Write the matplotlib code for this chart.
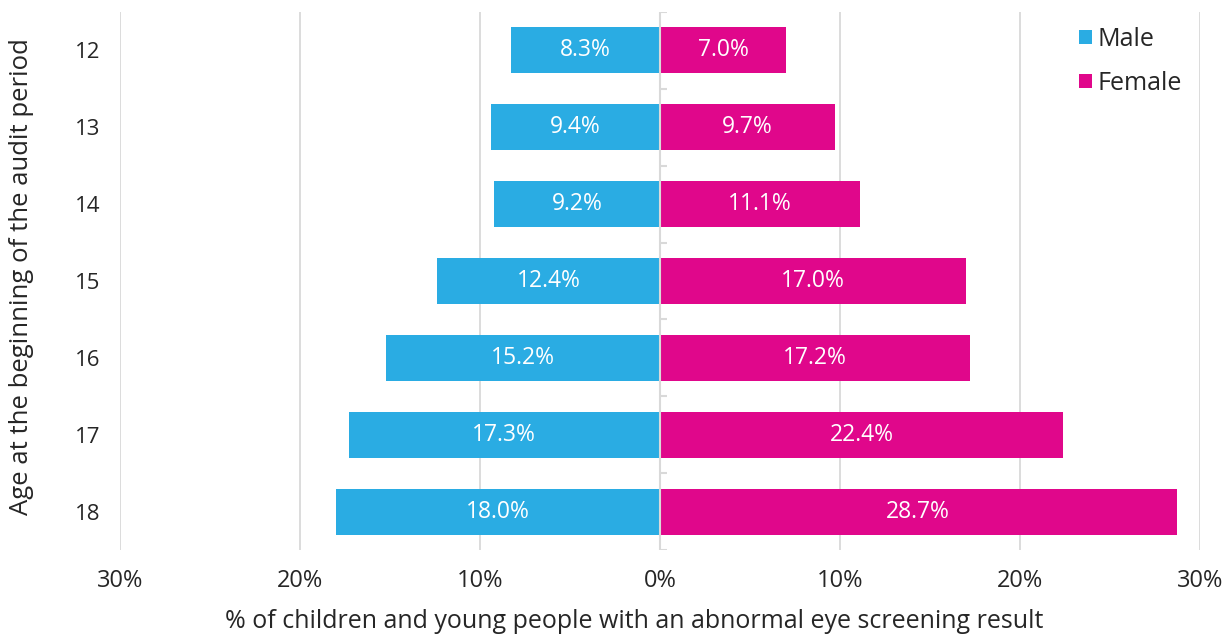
import matplotlib.pyplot as plt
import numpy as np

ages = ["12", "13", "14", "15", "16", "17", "18"]
male = [8.3, 9.4, 9.2, 12.4, 15.2, 17.3, 18.0]
female = [7.0, 9.7, 11.1, 17.0, 17.2, 22.4, 28.7]
xticks = [-30, -20, -10, 0, 10, 20, 30]
xticklabels = ["30%", "20%", "10%", "0%", "10%", "20%", "30%"]

plt.rcParams['font.family'] = ['Open Sans', 'DejaVu Sans']
MALE_C = "#2AACE3"
FEMALE_C = "#E0078B"
GRID_C = "#D9D9D9"
TEXT_C = "#262626"

fig = plt.figure(figsize=(12.27, 6.38), dpi=100)
ax = fig.add_axes([120/1227, (638-550)/638, 1080/1227, 538/638])

y = np.arange(len(ages))
ax.barh(y, [-m for m in male], height=0.6, color=MALE_C, label="Male", zorder=2)
ax.barh(y, female, height=0.6, color=FEMALE_C, label="Female", zorder=2)

for yi, m, f in zip(y, male, female):
    ax.text(-m/2, yi, f"{m:.1f}%", ha="center", va="center", color="white", fontsize=16.5, zorder=3)
    ax.text(f/2, yi, f"{f:.1f}%", ha="center", va="center", color="white", fontsize=16.5, zorder=3)

ax.set_xlim(-30, 30)
ax.set_ylim(len(ages)-0.5, -0.5)
for xv in [-30, -20, -10, 10, 20, 30]:
    ax.axvline(xv, color=GRID_C, lw=1.3, zorder=0)
ax.axvline(0, color=GRID_C, lw=1.5, zorder=4)
for b in np.arange(-0.5, len(ages)+0.5, 1.0):
    ax.plot([0, 0.4], [b, b], color=GRID_C, lw=1.5, zorder=4, solid_capstyle='butt')

for s in ax.spines.values():
    s.set_visible(False)
ax.set_yticks(y)
ax.set_yticklabels(ages, fontsize=16, color=TEXT_C)
ax.tick_params(axis='y', length=0, pad=14)
ax.set_xticks(xticks)
ax.set_xticklabels(xticklabels, fontsize=17, color=TEXT_C)
ax.tick_params(axis='x', length=0, pad=14)
ax.set_xlabel("% of children and young people with an abnormal eye screening result",
              fontsize=18, color=TEXT_C)
ax.xaxis.set_label_coords((634-120)/1080, -(622-550)/538)
ax.xaxis.label.set_va("center")
ax.set_ylabel("Age at the beginning of the audit period", fontsize=18.5, color=TEXT_C)
ax.yaxis.set_label_coords(-(120-22)/1080, (550-277)/538)
ax.yaxis.label.set_va("center")

ax.legend(loc="upper left", bbox_to_anchor=((1064-120)/1080, 1.0), frameon=False, fontsize=18,
          handlelength=0.5, handleheight=0.5, handletextpad=0.25, labelspacing=0.75,
          labelcolor=TEXT_C, borderpad=0.1)

fig.savefig("out.png", dpi=100)
